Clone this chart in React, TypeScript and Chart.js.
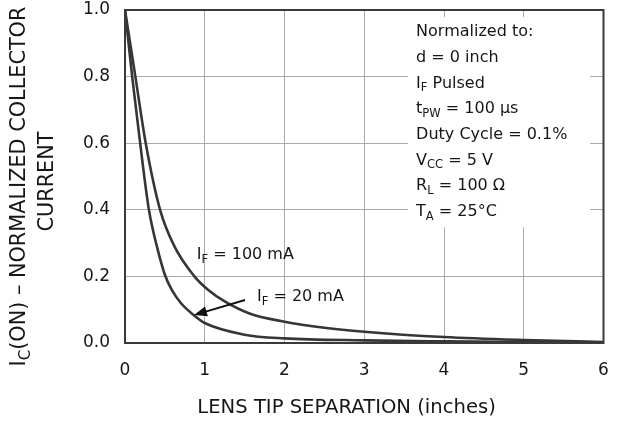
import React, { useEffect, useRef } from "react";
import { Chart, registerables } from "chart.js";

Chart.register(...registerables);

// ---- data ----
const distance100mA = [0, 0.065, 0.13, 0.26, 0.44, 0.62, 0.87, 1.04, 1.25, 1.57, 2.0, 2.5, 3.0, 4.0, 5.0, 6.0];
const current100mA = [1.0, 0.9, 0.8, 0.6, 0.4, 0.29, 0.2, 0.16, 0.125, 0.088, 0.064, 0.046, 0.034, 0.018, 0.009, 0.003];

const distance20mA = [0, 0.045, 0.09, 0.19, 0.3, 0.4, 0.5, 0.585, 0.7, 0.86, 1.0, 1.5, 2.0, 3.0, 4.0, 5.0, 6.0];
const current20mA = [1.0, 0.9, 0.8, 0.6, 0.4, 0.29, 0.205, 0.16, 0.12, 0.084, 0.06, 0.025, 0.014, 0.008, 0.005, 0.003, 0.002];

const xTicks = [0, 1, 2, 3, 4, 5, 6];
const yTicks = [0.0, 0.2, 0.4, 0.6, 0.8, 1.0];

type Part = { t: string; sub?: boolean };
const conditionLines: Part[][] = [
  [{ t: "Normalized to:" }],
  [{ t: "d = 0 inch" }],
  [{ t: "I" }, { t: "F", sub: true }, { t: " Pulsed" }],
  [{ t: "t" }, { t: "PW", sub: true }, { t: " = 100 μs" }],
  [{ t: "Duty Cycle = 0.1%" }],
  [{ t: "V" }, { t: "CC", sub: true }, { t: " = 5 V" }],
  [{ t: "R" }, { t: "L", sub: true }, { t: " = 100 Ω" }],
  [{ t: "T" }, { t: "A", sub: true }, { t: " = 25°C" }],
];
const label100: Part[] = [{ t: "I" }, { t: "F", sub: true }, { t: " = 100 mA" }];
const label20: Part[] = [{ t: "I" }, { t: "F", sub: true }, { t: " = 20 mA" }];
const yTitle1: Part[] = [{ t: "I" }, { t: "C", sub: true }, { t: "(ON) – NORMALIZED COLLECTOR" }];
const yTitle2: Part[] = [{ t: "CURRENT" }];
const xTitle: Part[] = [{ t: "LENS TIP SEPARATION (inches)" }];

const FONT = '"DejaVu Sans", sans-serif';
const TEXT = "#161616";
const CURVE = "#363636";

function richWidth(ctx: CanvasRenderingContext2D, parts: Part[], size: number) {
  let w = 0;
  for (const p of parts) {
    ctx.font = `${p.sub ? size * 0.72 : size}px ${FONT}`;
    w += ctx.measureText(p.t).width;
  }
  return w;
}

function drawRich(
  ctx: CanvasRenderingContext2D,
  parts: Part[],
  x: number,
  y: number,
  size: number,
  align: "left" | "center" = "left"
) {
  let cx = align === "center" ? x - richWidth(ctx, parts, size) / 2 : x;
  ctx.textAlign = "left";
  ctx.textBaseline = "middle";
  ctx.fillStyle = TEXT;
  for (const p of parts) {
    ctx.font = `${p.sub ? size * 0.72 : size}px ${FONT}`;
    ctx.fillText(p.t, cx, y + (p.sub ? size * 0.3 : 0));
    cx += ctx.measureText(p.t).width;
  }
}

const decorPlugin = {
  id: "decor",
  beforeDatasetsDraw(chart: any) {
    const { ctx, scales } = chart;
    const xs = scales.x;
    const ys = scales.y;
    // white box for the test conditions
    const x0 = xs.getPixelForValue(3.55);
    const x1 = xs.getPixelForValue(5.83);
    const y0 = ys.getPixelForValue(0.979);
    const y1 = ys.getPixelForValue(0.348);
    ctx.save();
    ctx.fillStyle = "#ffffff";
    ctx.fillRect(x0, y0, x1 - x0, y1 - y0);
    const tx = xs.getPixelForValue(3.65);
    const firstY = ys.getPixelForValue(0.934);
    const step = 25.7;
    conditionLines.forEach((line, i) => drawRich(ctx, line, tx, firstY + i * step, 16));
    ctx.restore();
  },
  afterDatasetsDraw(chart: any) {
    const { ctx, scales, chartArea } = chart;
    const xs = scales.x;
    const ys = scales.y;
    ctx.save();
    // frame
    ctx.strokeStyle = "#3a3a3a";
    ctx.lineWidth = 2;
    ctx.strokeRect(chartArea.left, chartArea.top, chartArea.right - chartArea.left, chartArea.bottom - chartArea.top);

    // curve labels
    drawRich(ctx, label100, xs.getPixelForValue(0.9), ys.getPixelForValue(0.264), 16);
    drawRich(ctx, label20, xs.getPixelForValue(1.655), ys.getPixelForValue(0.138), 16);

    // arrow
    const ax0 = xs.getPixelForValue(1.505);
    const ay0 = ys.getPixelForValue(0.129);
    const ax1 = xs.getPixelForValue(0.865);
    const ay1 = ys.getPixelForValue(0.084);
    const ang = Math.atan2(ay1 - ay0, ax1 - ax0);
    const headLen = 13;
    const headW = 5;
    ctx.strokeStyle = "#111";
    ctx.fillStyle = "#111";
    ctx.lineWidth = 2;
    ctx.beginPath();
    ctx.moveTo(ax0, ay0);
    ctx.lineTo(ax1 - Math.cos(ang) * headLen * 0.8, ay1 - Math.sin(ang) * headLen * 0.8);
    ctx.stroke();
    ctx.beginPath();
    ctx.moveTo(ax1, ay1);
    const bx = ax1 - Math.cos(ang) * headLen;
    const by = ay1 - Math.sin(ang) * headLen;
    ctx.lineTo(bx + Math.sin(ang) * headW, by - Math.cos(ang) * headW);
    ctx.lineTo(bx - Math.sin(ang) * headW, by + Math.cos(ang) * headW);
    ctx.closePath();
    ctx.fill();

    // x-axis title
    drawRich(ctx, xTitle, chartArea.left + (chartArea.right - chartArea.left) * 0.463, 408, 19.6, "center");

    // y-axis title (two lines, rotated)
    const midY = (chartArea.top + chartArea.bottom) / 2 + 10;
    ctx.save();
    ctx.translate(20, midY);
    ctx.rotate(-Math.PI / 2);
    drawRich(ctx, yTitle1, 0, 0, 20.8, "center");
    ctx.restore();
    ctx.save();
    ctx.translate(48, midY - 5);
    ctx.rotate(-Math.PI / 2);
    drawRich(ctx, yTitle2, 0, 0, 20.8, "center");
    ctx.restore();
    ctx.restore();
  },
};

export default function App() {
  const canvasRef = useRef<HTMLCanvasElement | null>(null);

  useEffect(() => {
    document.body.style.margin = "0";
    const canvas = canvasRef.current;
    if (!canvas) return;
    const chart = new Chart(canvas, {
      type: "line",
      data: {
        datasets: [
          {
            label: "IF = 100 mA",
            data: distance100mA.map((x, i) => ({ x, y: current100mA[i] })),
            borderColor: CURVE,
            borderWidth: 2.6,
            pointRadius: 0,
            cubicInterpolationMode: "monotone",
            fill: false,
          },
          {
            label: "IF = 20 mA",
            data: distance20mA.map((x, i) => ({ x, y: current20mA[i] })),
            borderColor: CURVE,
            borderWidth: 2.6,
            pointRadius: 0,
            cubicInterpolationMode: "monotone",
            fill: false,
          },
        ],
      },
      options: {
        animation: false,
        responsive: true,
        maintainAspectRatio: false,
        layout: { padding: { top: 0, right: 17.5, left: 0, bottom: 0 } },
        plugins: { legend: { display: false }, tooltip: { enabled: false } },
        scales: {
          x: {
            type: "linear",
            min: xTicks[0],
            max: xTicks[xTicks.length - 1],
            afterBuildTicks: (scale: any) => {
              scale.ticks = xTicks.map((v) => ({ value: v }));
            },
            afterFit: (scale: any) => {
              scale.height = 85;
              scale.paddingLeft = 0;
              scale.paddingRight = 0;
            },
            ticks: {
              color: TEXT,
              font: { family: FONT, size: 17 },
              padding: 17,
              callback: (v: any) => String(v),
            },
            grid: { color: "#ababab", lineWidth: 1, drawTicks: false },
            border: { display: true, color: "#3a3a3a", width: 2 },
          },
          y: {
            type: "linear",
            min: yTicks[0],
            max: yTicks[yTicks.length - 1],
            afterBuildTicks: (scale: any) => {
              scale.ticks = yTicks.map((v) => ({ value: v }));
            },
            afterFit: (scale: any) => {
              scale.width = 125;
              scale.paddingTop = 10;
              scale.paddingBottom = 0;
            },
            ticks: {
              color: TEXT,
              font: { family: FONT, size: 17 },
              padding: 15,
              callback: (v: any) => Number(v).toFixed(1),
            },
            grid: { color: "#ababab", lineWidth: 1, drawTicks: false },
            border: { display: true, color: "#3a3a3a", width: 2 },
          },
        },
      },
      plugins: [decorPlugin],
    } as any);
    return () => chart.destroy();
  }, []);

  return (
    <div style={{ position: "relative", width: "621px", height: "428px", background: "#fff" }}>
      <canvas ref={canvasRef} />
    </div>
  );
}
